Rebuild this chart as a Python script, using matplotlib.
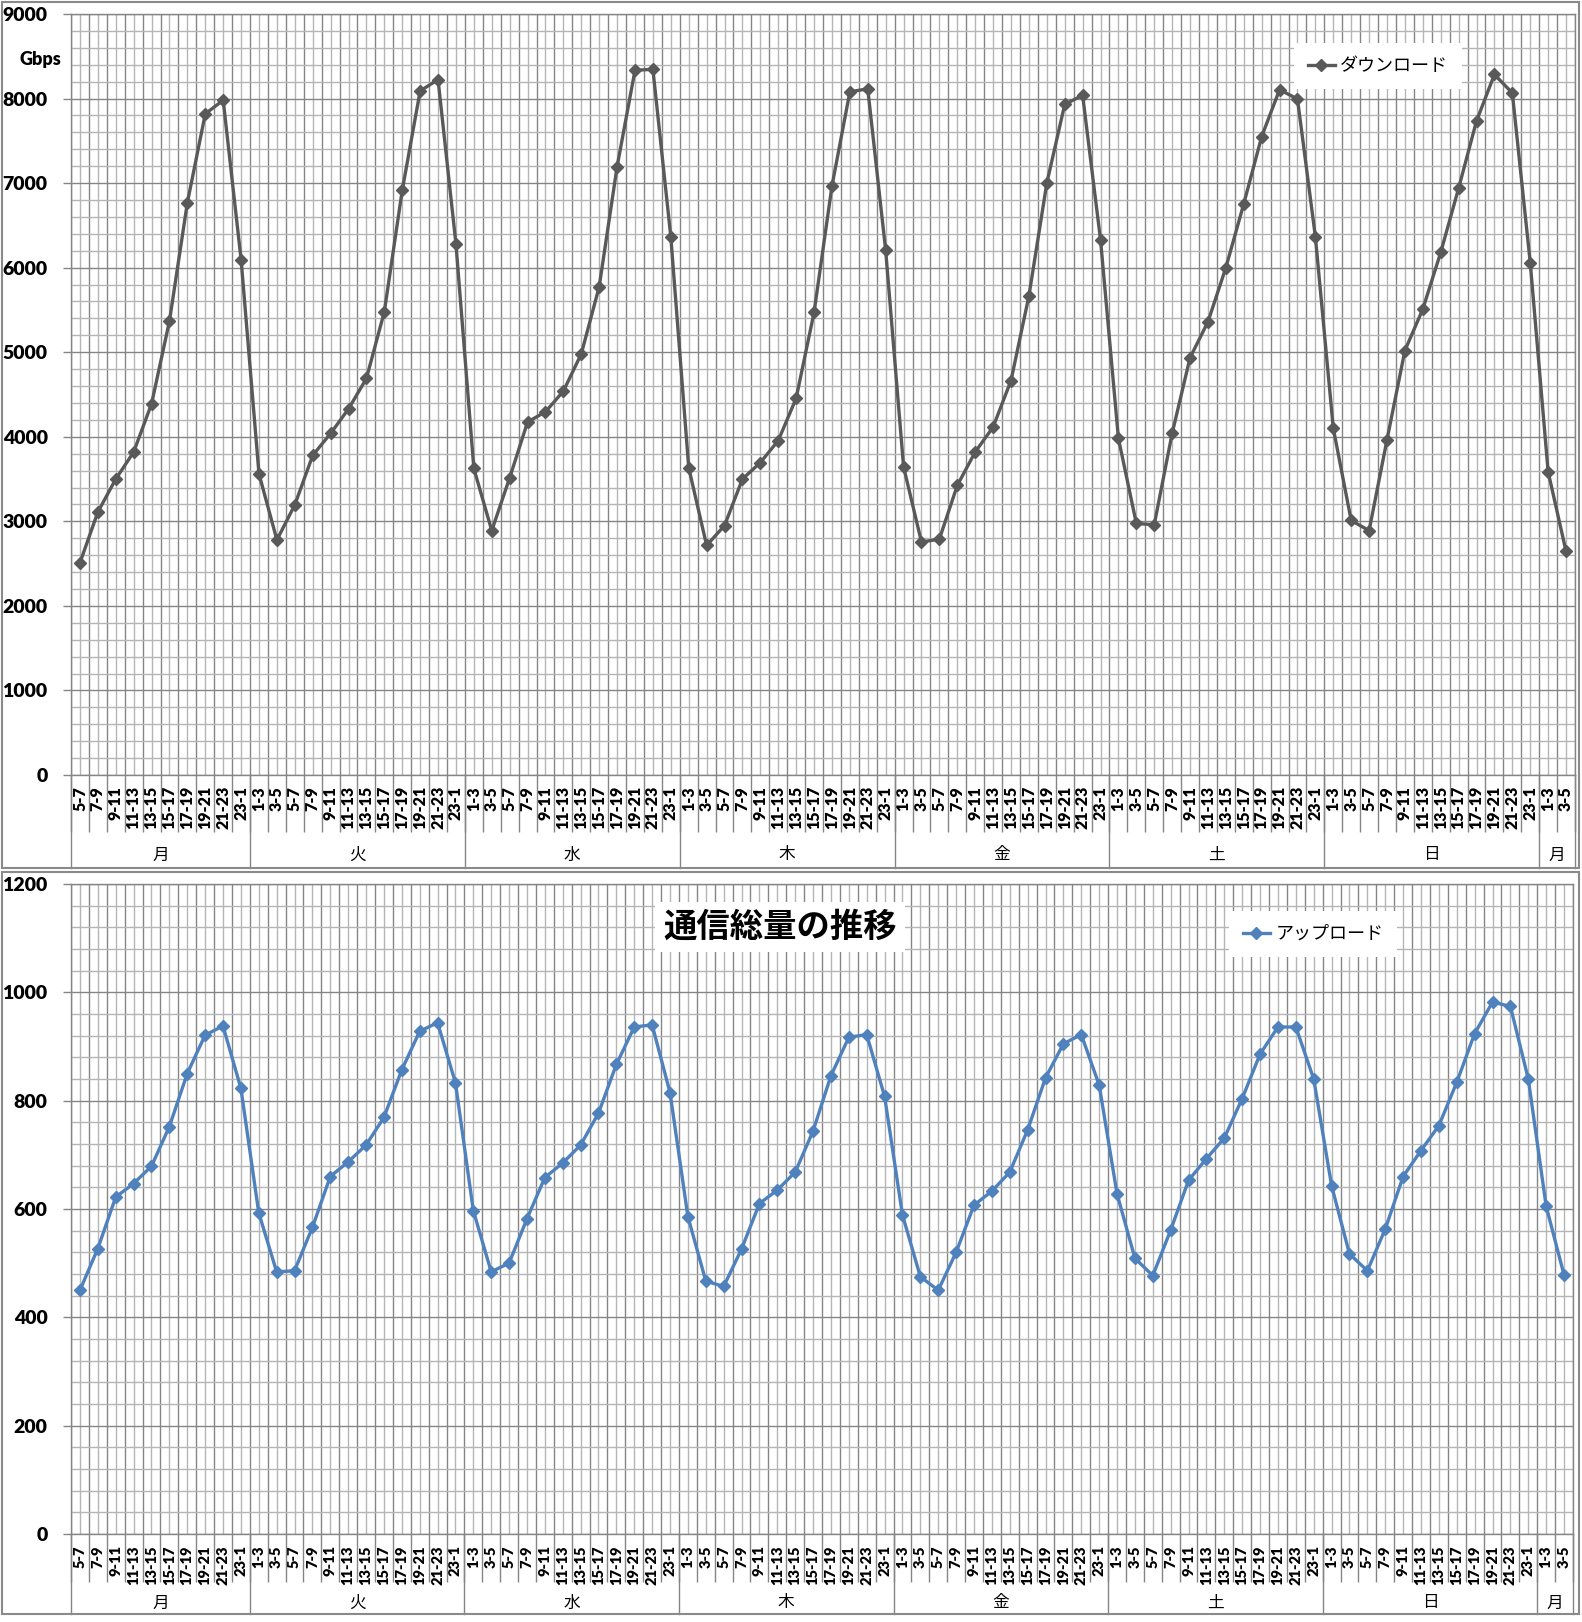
import numpy as np
import matplotlib.pyplot as plt
import matplotlib.transforms as mtransforms
from matplotlib.patches import Rectangle

plt.rcParams['font.family'] = ['Lato', 'Noto Sans CJK JP', 'DejaVu Sans']

# 時間帯ラベル (月曜5時から翌週月曜5時まで)
day_slots = ['1-3', '3-5', '5-7', '7-9', '9-11', '11-13', '13-15',
             '15-17', '17-19', '19-21', '21-23', '23-1']
slot_labels = day_slots[2:] + day_slots * 6 + day_slots[:2]
day_names = ['月', '火', '水', '木', '金', '土', '日', '月']
day_counts = [10, 12, 12, 12, 12, 12, 12, 2]

# ダウンロード (Gbps)
dl_mon = [2510, 3110, 3500, 3820, 4390, 5370, 6770, 7820, 7980, 6095]
dl_tue = [3560, 2780, 3195, 3780, 4040, 4330, 4690, 5480, 6915, 8090, 8225, 6280]
dl_wed = [3625, 2890, 3515, 4175, 4295, 4540, 4980, 5775, 7195, 8335, 8345, 6365]
dl_thu = [3635, 2715, 2950, 3500, 3695, 3955, 4455, 5470, 6965, 8080, 8115, 6205]
dl_fri = [3645, 2755, 2790, 3425, 3820, 4115, 4665, 5665, 7000, 7930, 8040, 6330]
dl_sat = [3980, 2975, 2960, 4040, 4935, 5360, 6000, 6755, 7550, 8105, 7995, 6365]
dl_sun = [4100, 3010, 2890, 3965, 5020, 5510, 6180, 6940, 7735, 8285, 8065, 6060]
dl_mon2 = [3585, 2645]

# アップロード (Gbps)
ul_mon = [450, 527, 622, 647, 679, 752, 850, 921, 938, 823]
ul_tue = [593, 484, 486, 566, 660, 687, 718, 769, 857, 928, 944, 833]
ul_wed = [597, 484, 500, 582, 658, 685, 718, 777, 867, 936, 940, 815]
ul_thu = [586, 467, 457, 526, 610, 635, 668, 744, 846, 917, 922, 808]
ul_fri = [589, 475, 450, 520, 607, 633, 668, 746, 842, 905, 922, 829]
ul_sat = [628, 509, 477, 561, 653, 693, 731, 804, 886, 936, 936, 840]
ul_sun = [643, 517, 486, 563, 660, 708, 754, 834, 924, 982, 974, 840]
ul_mon2 = [605, 478]

download = dl_mon + dl_tue + dl_wed + dl_thu + dl_fri + dl_sat + dl_sun + dl_mon2
upload = ul_mon + ul_tue + ul_wed + ul_thu + ul_fri + ul_sat + ul_sun + ul_mon2

W, H = 1582, 1622
GRID_DARK = '#858585'
GRID_LIGHT = '#b5b5b5'
FRAME = '#8a8a8a'

fig = plt.figure(figsize=(W / 100, H / 100), dpi=100)
fig.patch.set_facecolor('white')


def rect(l, t, r, b):
    return [l / W, 1 - b / H, (r - l) / W, (b - t) / H]


def panel(box, values, color, ymax, major, minor, frame_bottom, day_y,
          xt_size, tick_len):
    ax = fig.add_axes(rect(*box))
    n = len(values)
    x = np.arange(n)
    ax.plot(x, values, color=color, lw=2.4, marker='D', ms=6.5, zorder=3,
            clip_on=False)
    ax.set_xlim(-0.5, n - 0.5)
    ax.set_ylim(0, ymax)

    ax.set_xticks(x)
    ax.set_xticklabels(slot_labels, rotation=90, fontsize=xt_size,
                       fontweight='heavy', va='top', ha='center')
    ax.set_xticks(np.arange(-0.5, n, 1), minor=True)
    ax.tick_params(axis='x', which='major', length=0, pad=8)
    ax.tick_params(axis='x', which='minor', length=tick_len, width=1,
                   color=GRID_DARK)

    ax.set_yticks(np.arange(0, ymax + 1, major))
    ax.set_yticks(np.arange(0, ymax + 1, minor), minor=True)
    ax.tick_params(axis='y', which='major', length=5.8, width=1,
                   color=GRID_DARK, pad=11, labelsize=14)
    ax.tick_params(axis='y', which='minor', length=0)
    for lbl in ax.get_yticklabels():
        lbl.set_fontweight('heavy')

    ax.grid(True, which='major', axis='y', color=GRID_DARK, lw=1)
    ax.grid(True, which='minor', axis='y', color=GRID_LIGHT, lw=1)
    ax.grid(True, which='minor', axis='x', color=GRID_DARK, lw=1)
    ax.grid(True, which='major', axis='x', color=GRID_LIGHT, lw=1)
    ax.set_axisbelow(True)
    for s in ax.spines.values():
        s.set_color(GRID_DARK)
        s.set_linewidth(1)

    # 曜日の区切りとラベル
    trans = mtransforms.blended_transform_factory(ax.transData, fig.transFigure)
    y_axis = 1 - box[3] / H
    y_end = 1 - frame_bottom / H
    start = 0
    bounds = [-0.5]
    for name, cnt in zip(day_names, day_counts):
        end = start + cnt
        bounds.append(end - 0.5)
        ax.text((start + end - 1) / 2, 1 - day_y / H, name, transform=trans,
                ha='center', va='center', fontsize=12,
                family=['Noto Sans CJK JP', 'DejaVu Sans'])
        start = end
    for b in bounds:
        ax.plot([b, b], [y_axis, y_end], transform=trans, color=GRID_DARK,
                lw=1, clip_on=False)
    return ax


ax1 = panel((71, 14, 1575, 775), download, '#595959', 9000, 1000, 200,
            868, 855, 11.5, 41)
ax2 = panel((71, 884, 1573, 1534), upload, '#4f81bd', 1200, 200, 40,
            1614, 1603, 10.5, 34.5)

# 外枠
for (l, t, r, b) in [(2, 2, 1579, 868), (2, 872, 1579, 1614)]:
    fig.patches.append(Rectangle((l / W, 1 - b / H), (r - l) / W, (b - t) / H,
                                 transform=fig.transFigure, fill=False,
                                 edgecolor=FRAME, lw=1.5))

fig.text(40 / W, 1 - 60 / H, 'Gbps', ha='center', va='center',
         fontsize=13, fontweight='heavy')

fig.text(780 / W, 1 - 927 / H, '通信総量の推移', ha='center', va='center',
         fontsize=24, fontweight='bold',
         family=['Noto Sans CJK JP', 'DejaVu Sans'],
         bbox=dict(facecolor='white', edgecolor='none', pad=6))

leg_font = {'family': ['Noto Sans CJK JP', 'DejaVu Sans'], 'size': 13}
ax1.legend(['ダウンロード'], loc='center',
           bbox_to_anchor=(1378 / W, 1 - 66 / H), bbox_transform=fig.transFigure,
           prop=leg_font, frameon=True, facecolor='white', edgecolor='none',
           framealpha=1, fancybox=False, handlelength=1.5, handletextpad=0.3,
           borderpad=0.75)
ax2.legend(['アップロード'], loc='center',
           bbox_to_anchor=(1313 / W, 1 - 934 / H), bbox_transform=fig.transFigure,
           prop=leg_font, frameon=True, facecolor='white', edgecolor='none',
           framealpha=1, fancybox=False, handlelength=1.5, handletextpad=0.3,
           borderpad=0.75)

fig.savefig('out.png', dpi=100, facecolor='white')
